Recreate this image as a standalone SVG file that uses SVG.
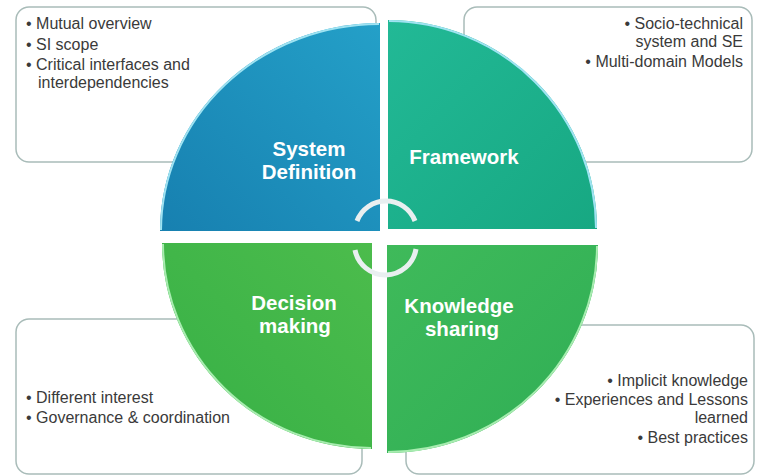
<svg xmlns="http://www.w3.org/2000/svg" width="759" height="476" viewBox="0 0 759 476">
<defs>
<linearGradient id="gBlue" x1="1" y1="0" x2="0" y2="1"><stop offset="0" stop-color="#24a0c8"/><stop offset="1" stop-color="#1780b0"/></linearGradient>
<linearGradient id="gTeal" x1="0" y1="0" x2="1" y2="1"><stop offset="0" stop-color="#22b996"/><stop offset="1" stop-color="#17a882"/></linearGradient>
<linearGradient id="gDec" x1="1" y1="0" x2="0" y2="1"><stop offset="0" stop-color="#4cbc4c"/><stop offset="1" stop-color="#36b046"/></linearGradient>
<linearGradient id="gKno" x1="0" y1="0" x2="1" y2="1"><stop offset="0" stop-color="#3fba5a"/><stop offset="1" stop-color="#2fae55"/></linearGradient>
<style>
.box{fill:#ffffff;stroke:#a9bcb9;stroke-width:1.5}
.txt{font-family:"Liberation Sans",Arial,sans-serif;font-size:16px;fill:#3a3a3a}
.lbl{font-family:"Liberation Sans",Arial,sans-serif;font-size:20.5px;font-weight:bold;fill:#ffffff;text-anchor:middle}
.end{text-anchor:end}
.edgeB{fill:none;stroke:#9fe3f2;stroke-width:2}
.edgeG{fill:none;stroke:#a8ecb0;stroke-width:2}
.cyc{fill:none;stroke:#e9eff0;stroke-width:5}
</style>
</defs>
<rect width="759" height="476" fill="#ffffff"/>
<g id="box-system-definition">
<rect class="box" x="16" y="7" width="360" height="155" rx="13"/>
<text class="txt" x="26" y="29">• Mutual overview</text>
<text class="txt" x="26" y="50">• SI scope</text>
<text class="txt" x="26" y="70">• Critical interfaces and</text>
<text class="txt" x="38" y="88">interdependencies</text>
</g>
<g id="box-framework">
<rect class="box" x="464" y="7" width="288" height="155" rx="13"/>
<text class="txt end" x="743" y="29">• Socio-technical</text>
<text class="txt end" x="743" y="47">system and SE</text>
<text class="txt end" x="743" y="67">• Multi-domain Models</text>
</g>
<g id="box-decision-making">
<rect class="box" x="16" y="319" width="346" height="155" rx="13"/>
<text class="txt" x="26" y="403">• Different interest</text>
<text class="txt" x="26" y="423">• Governance &amp; coordination</text>
</g>
<g id="box-knowledge-sharing">
<rect class="box" x="406" y="325" width="348" height="149" rx="13"/>
<text class="txt end" x="748" y="386">• Implicit knowledge</text>
<text class="txt end" x="748" y="405">• Experiences and Lessons</text>
<text class="txt end" x="748" y="423">learned</text>
<text class="txt end" x="748" y="443">• Best practices</text>
</g>
<g id="q-system-definition">
<path d="M380 231 L160 231 A220 208 0 0 1 380 23 Z" fill="url(#gBlue)"/>
<path class="edgeB" d="M161 230 A219 207 0 0 1 379 24"/>
<text class="lbl" x="309" y="156">System</text>
<text class="lbl" x="309" y="179">Definition</text>
</g>
<g id="q-framework">
<path d="M388 229 L388 20 A209 209 0 0 1 597 229 Z" fill="url(#gTeal)"/>
<path class="edgeB" d="M389 21 A208 208 0 0 1 596 228"/>
<text class="lbl" x="464" y="164">Framework</text>
</g>
<g id="q-decision-making">
<path d="M372 243 L372 449 A210 206 0 0 1 162 243 Z" fill="url(#gDec)"/>
<path class="edgeG" d="M371 448 A209 205 0 0 1 163 244"/>
<text class="lbl" x="294" y="310">Decision</text>
<text class="lbl" x="295" y="333">making</text>
</g>
<g id="q-knowledge-sharing">
<path d="M387 245 L598 245 A211 208 0 0 1 387 453 Z" fill="url(#gKno)"/>
<path class="edgeG" d="M597 246 A210 207 0 0 1 388 452"/>
<text class="lbl" x="459" y="313">Knowledge</text>
<text class="lbl" x="462" y="336">sharing</text>
</g>
<g id="connectors">
<path class="cyc" d="M357 221 A31 31 0 0 1 415 221"/>
<path class="cyc" d="M355 250 A31 31 0 0 0 416 249"/>
</g>
</svg>
